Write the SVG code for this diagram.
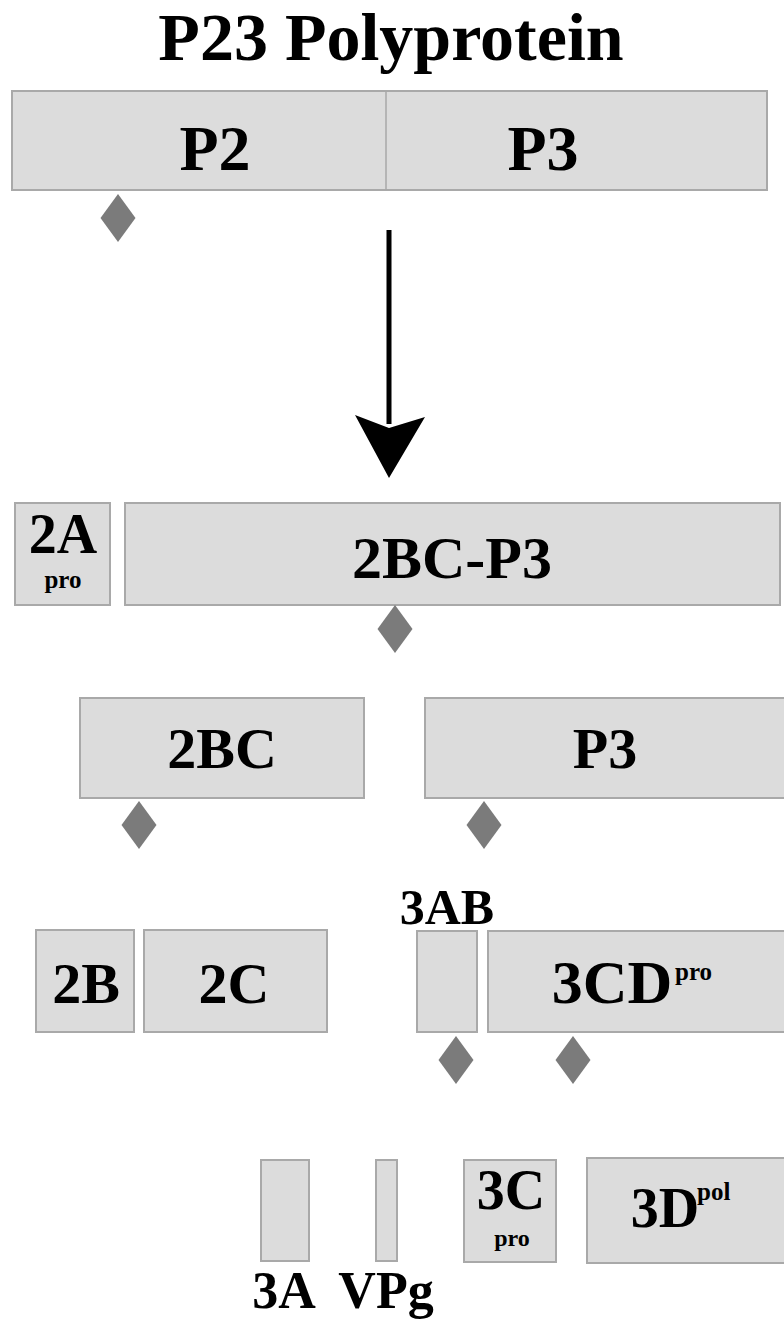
<svg xmlns="http://www.w3.org/2000/svg" width="784" height="1319" viewBox="0 0 784 1319">
<style>
.box{fill:#dcdcdc;stroke:#a9a9a9;stroke-width:2}
.t{font-family:"Liberation Serif","Times New Roman",serif;font-weight:bold;fill:#000;text-anchor:middle}
.dm{fill:#7b7b7b}
</style>
<defs>
<path id="dia" d="M0,-24 L17.5,0 L0,24 L-17.5,0 Z"/>
</defs>
<rect width="784" height="1319" fill="#fff"/>
<text class="t" x="391" y="60" font-size="68">P23 Polyprotein</text>

<g id="p23">
<rect class="box" x="12" y="91" width="755" height="99"/>
<line x1="386" y1="91" x2="386" y2="190" stroke="#a9a9a9" stroke-width="1.5"/>
<text class="t" x="215" y="170" font-size="64">P2</text>
<text class="t" x="543" y="170" font-size="64">P3</text>
<use href="#dia" class="dm" x="118" y="218"/>
</g>

<g id="connectors">
<line x1="389" y1="230" x2="389" y2="424" stroke="#000" stroke-width="5"/>
<path d="M355,415 L389,478 L425,417 L389,428 Z" fill="#000"/>
</g>

<g id="n2A">
<rect class="box" x="15" y="503" width="95" height="102"/>
<text class="t" x="63" y="553" font-size="56">2A</text>
<text class="t" x="63" y="588" font-size="25">pro</text>
</g>
<g id="n2BCP3">
<rect class="box" x="125" y="503" width="655" height="102"/>
<text class="t" x="452" y="578" font-size="60">2BC-P3</text>
<use href="#dia" class="dm" x="395" y="629"/>
</g>

<g id="n2BC">
<rect class="box" x="80" y="698" width="284" height="100"/>
<text class="t" x="222" y="768" font-size="58">2BC</text>
<use href="#dia" class="dm" x="139" y="825"/>
</g>
<g id="nP3">
<rect class="box" x="425" y="698" width="362" height="100"/>
<text class="t" x="605" y="768" font-size="58">P3</text>
<use href="#dia" class="dm" x="484" y="825"/>
</g>

<g id="n2B">
<rect class="box" x="36" y="930" width="98" height="102"/>
<text class="t" x="86" y="1003" font-size="58">2B</text>
</g>
<g id="n2C">
<rect class="box" x="144" y="930" width="183" height="102"/>
<text class="t" x="234" y="1003" font-size="58">2C</text>
</g>
<g id="n3AB">
<rect class="box" x="417" y="931" width="60" height="101"/>
<text class="t" x="447" y="924" font-size="50">3AB</text>
<use href="#dia" class="dm" x="456" y="1060"/>
</g>
<g id="n3CD">
<rect class="box" x="488" y="931" width="299" height="101"/>
<text class="t" x="612" y="1003" font-size="62">3CD</text>
<text x="675" y="980" font-family="Liberation Serif, Times New Roman, serif" font-weight="bold" font-size="25">pro</text>
<use href="#dia" class="dm" x="573" y="1060"/>
</g>

<g id="n3A">
<rect class="box" x="261" y="1160" width="48" height="101"/>
<text class="t" x="284" y="1308" font-size="52">3A</text>
</g>
<g id="nVPg">
<rect class="box" x="376" y="1160" width="21" height="101"/>
<text class="t" x="386" y="1308" font-size="52">VPg</text>
</g>
<g id="n3C">
<rect class="box" x="464" y="1160" width="92" height="102"/>
<text class="t" x="511" y="1209" font-size="56">3C</text>
<text class="t" x="512" y="1246" font-size="24">pro</text>
</g>
<g id="n3D">
<rect class="box" x="587" y="1158" width="200" height="105"/>
<text class="t" x="665" y="1227" font-size="56">3D</text>
<text x="697" y="1200" font-family="Liberation Serif, Times New Roman, serif" font-weight="bold" font-size="25">pol</text>
</g>
</svg>
